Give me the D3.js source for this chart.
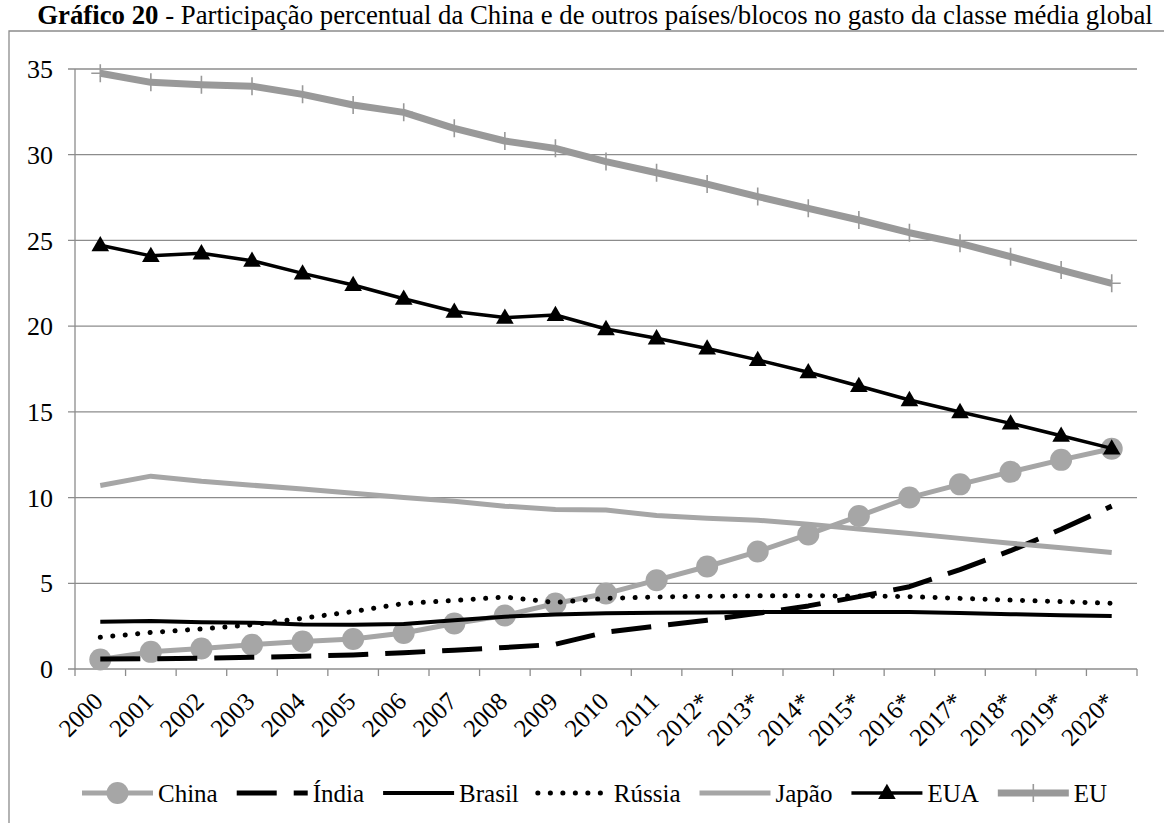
<!DOCTYPE html>
<html>
<head>
<meta charset="utf-8">
<script src="https://cdn.jsdelivr.net/npm/d3@7/dist/d3.min.js"></script>
<style>
  html, body { margin: 0; padding: 0; background: #fff; }
  svg text { font-family: "Times New Roman", "Liberation Serif", Times, serif; }
</style>
</head>
<body>
<svg id="chart" width="1164" height="823"></svg>
<script>
// Share of global middle-class spending (%), 2000–2020 (* = projection)
const years = ["2000","2001","2002","2003","2004","2005","2006","2007","2008","2009","2010","2011",
               "2012*","2013*","2014*","2015*","2016*","2017*","2018*","2019*","2020*"];
const china  = [0.55, 1.0, 1.2, 1.42, 1.6, 1.75, 2.1, 2.65, 3.12, 3.82, 4.4, 5.18, 5.98, 6.85, 7.85, 8.92, 10.0, 10.77, 11.5, 12.2, 12.85];
const india  = [0.58, 0.6, 0.63, 0.68, 0.74, 0.82, 0.95, 1.1, 1.25, 1.44, 2.15, 2.5, 2.85, 3.25, 3.68, 4.22, 4.8, 5.8, 6.9, 8.15, 9.5];
const brasil = [2.76, 2.8, 2.72, 2.7, 2.6, 2.58, 2.63, 2.85, 3.05, 3.18, 3.25, 3.28, 3.3, 3.32, 3.33, 3.33, 3.32, 3.26, 3.2, 3.14, 3.09];
const russia = [1.85, 2.13, 2.34, 2.58, 2.96, 3.35, 3.82, 4.0, 4.2, 3.88, 4.12, 4.2, 4.24, 4.27, 4.27, 4.26, 4.22, 4.12, 4.02, 3.93, 3.83];
const japao  = [10.7, 11.25, 10.95, 10.72, 10.5, 10.25, 10.0, 9.78, 9.5, 9.3, 9.27, 8.95, 8.8, 8.68, 8.45, 8.17, 7.9, 7.62, 7.34, 7.07, 6.8];
const eua    = [24.72, 24.1, 24.25, 23.82, 23.08, 22.4, 21.6, 20.85, 20.5, 20.65, 19.83, 19.29, 18.7, 18.03, 17.31, 16.51, 15.69, 14.99, 14.33, 13.61, 12.87];
const eu     = [34.75, 34.22, 34.08, 34.0, 33.52, 32.9, 32.47, 31.54, 30.8, 30.37, 29.6, 28.95, 28.29, 27.56, 26.87, 26.19, 25.45, 24.83, 24.05, 23.27, 22.5];
const yTicks = [0, 5, 10, 15, 20, 25, 30, 35];
const seriesNames = ["China", "Índia", "Brasil", "Rússia", "Japão", "EUA", "EU"];
const titleBold = "Gráfico 20";
const titleRest = " - Participação percentual da China e de outros países/blocos no gasto da classe média global";

// drawing styles per series
const styles = {
  "China":  { color: "#a6a6a6", width: 5,   dash: null,      cap: "butt",  marker: "circle" },
  "Índia":  { color: "#000000", width: 5,   dash: "40,17",   cap: "butt",  marker: null },
  "Brasil": { color: "#000000", width: 4,   dash: null,      cap: "butt",  marker: null },
  "Rússia": { color: "#000000", width: 5,   dash: "0.1,12.4",cap: "round", marker: null },
  "Japão":  { color: "#a6a6a6", width: 5,   dash: null,      cap: "butt",  marker: null },
  "EUA":    { color: "#000000", width: 3.5, dash: null,      cap: "butt",  marker: "triangle" },
  "EU":     { color: "#999999", width: 7,   dash: null,      cap: "butt",  marker: "plus" }
};
const valuesByName = { "China": china, "Índia": india, "Brasil": brasil, "Rússia": russia,
                       "Japão": japao, "EUA": eua, "EU": eu };

const svg = d3.select("#chart");
const gridColor = "#8c8c8c";

// outer frame (left and top edges)
svg.append("path")
  .attr("d", "M9,823 L9,31 L1164,31")
  .attr("fill", "none").attr("stroke", gridColor).attr("stroke-width", 1.3);

// title, sized to span the frame width
const title = svg.append("text")
  .attr("x", 595).attr("y", 24)
  .attr("text-anchor", "middle")
  .attr("font-size", 22);
title.append("tspan").attr("font-weight", "bold").text(titleBold);
title.append("tspan").text(titleRest);
const tw = title.node().getComputedTextLength();
title.attr("font-size", 22 * 1116 / tw);

// scales
const x = d3.scalePoint().domain(years).range([75, 1137]).padding(0.5);
const y = d3.scaleLinear().domain([0, 35]).range([669, 69]);
const step = x.step();

// horizontal gridlines with left tick marks
svg.append("g").selectAll("line").data(yTicks).join("line")
  .attr("x1", 68).attr("x2", 1137)
  .attr("y1", d => y(d)).attr("y2", d => y(d))
  .attr("stroke", gridColor).attr("stroke-width", 1.3);

// y axis line
svg.append("line")
  .attr("x1", 75).attr("x2", 75).attr("y1", y(35)).attr("y2", y(0))
  .attr("stroke", gridColor).attr("stroke-width", 1.3);

// y labels
svg.append("g").selectAll("text").data(yTicks).join("text")
  .attr("x", 53).attr("y", d => y(d)).attr("dy", "0.35em")
  .attr("text-anchor", "end").attr("font-size", 26)
  .text(d => d);

// x axis tick marks at category boundaries
const boundaries = d3.range(years.length + 1).map(i => 75 + i * step);
svg.append("g").selectAll("line").data(boundaries).join("line")
  .attr("x1", d => d).attr("x2", d => d)
  .attr("y1", y(0)).attr("y2", y(0) + 7)
  .attr("stroke", gridColor).attr("stroke-width", 1.3);

// x labels, rotated
svg.append("g").selectAll("text").data(years).join("text")
  .attr("text-anchor", "end").attr("font-size", 25)
  .attr("transform", d => `translate(${x(d) + 4},${y(0) + 34}) rotate(-45)`)
  .text(d => d);

// series
const line = d3.line().x((d, i) => x(years[i])).y(d => y(d));
const plot = svg.append("g");

function drawMarker(g, kind, cx, cy, st) {
  if (kind === "circle") {
    g.append("circle").attr("cx", cx).attr("cy", cy).attr("r", 11).attr("fill", st.color);
  } else if (kind === "triangle") {
    g.append("path")
      .attr("d", d3.symbol(d3.symbolTriangle, 135)())
      .attr("transform", `translate(${cx},${cy + 1})`)
      .attr("fill", st.color);
  } else if (kind === "plus") {
    g.append("path")
      .attr("d", `M${cx},${cy - 9}V${cy + 9}M${cx - 9},${cy}H${cx + 9}`)
      .attr("stroke", st.color).attr("stroke-width", 1.6).attr("fill", "none");
  }
}

seriesNames.forEach(name => {
  const st = styles[name];
  const vals = valuesByName[name];
  const g = plot.append("g");
  g.append("path")
    .datum(vals)
    .attr("d", line)
    .attr("fill", "none")
    .attr("stroke", st.color)
    .attr("stroke-width", st.width)
    .attr("stroke-linejoin", "round")
    .attr("stroke-linecap", st.cap)
    .attr("stroke-dasharray", st.dash);
  if (st.marker) {
    vals.forEach((v, i) => drawMarker(g, st.marker, x(years[i]), y(v), st));
  }
});

// legend
const legend = svg.append("g");
const legY = 793;
const lineLen = 71;
let lx = 82;
seriesNames.forEach(name => {
  const st = styles[name];
  const g = legend.append("g");
  g.append("line")
    .attr("x1", lx).attr("x2", lx + lineLen).attr("y1", legY).attr("y2", legY)
    .attr("stroke", st.color).attr("stroke-width", st.width)
    .attr("stroke-linecap", st.cap)
    .attr("stroke-dasharray", st.dash);
  if (st.marker) drawMarker(g, st.marker, lx + lineLen / 2, legY, st);
  const t = g.append("text")
    .attr("x", lx + lineLen + 5).attr("y", legY).attr("dy", "0.35em")
    .attr("font-size", 25)
    .text(name);
  lx = lx + lineLen + 5 + t.node().getComputedTextLength() + 19;
});
</script>
</body>
</html>
